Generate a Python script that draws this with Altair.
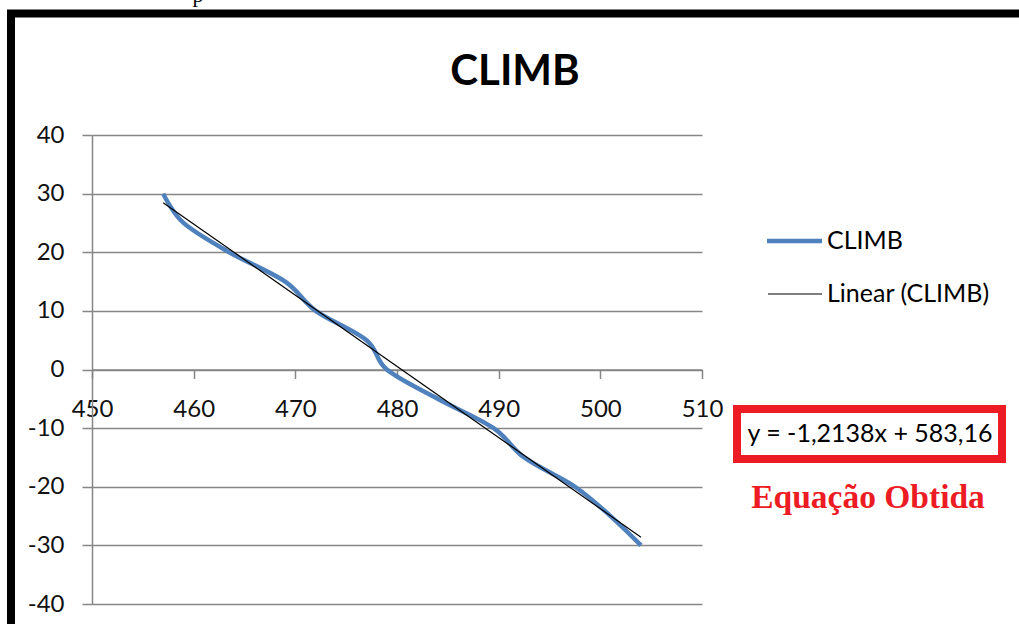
import altair as alt
import pandas as pd

# ---- data ----
climb_x = [457, 459, 463.5, 469, 472, 477, 479, 484, 489.5, 492.5, 497.5, 501, 504]
climb_y = [30, 25, 20, 15, 10, 5, 0, -5, -10, -15, -20, -25, -30]
trend_slope = -1.2138
trend_intercept = 583.16
x_ticks = [450, 460, 470, 480, 490, 500, 510]
y_ticks = [-40, -30, -20, -10, 0, 10, 20, 30, 40]
series_names = ["CLIMB", "Linear (CLIMB)"]
series_colors = ["#4F81BD", "#000000"]
title_text = "CLIMB"
equation_text = "y = -1,2138x + 583,16"
note_text = "Equação Obtida"

climb = pd.DataFrame({"x": climb_x, "y": climb_y})
tx = [min(climb_x), max(climb_x)]
trend = pd.DataFrame({"x": tx, "y": [trend_slope * v + trend_intercept for v in tx]})

FONT = "Lato"
GRID = "#868686"

xscale = alt.Scale(domain=[450, 510], nice=False, zero=False)
yscale = alt.Scale(domain=[-40, 40], nice=False, zero=False)

xaxis = alt.Axis(values=x_ticks, offset=-234.5, tickSize=9, tickColor=GRID, tickWidth=1.5,
                 domainColor=GRID, domainWidth=1.5, labelFont=FONT, labelFontSize=24,
                 labelColor="#111111", labelPadding=19, labelFlush=False, labelOverlap=False,
                 grid=False, title=None, labelExpr="'' + datum.value")
yaxis = alt.Axis(values=y_ticks, tickSize=10, tickColor=GRID, tickWidth=1.5,
                 domainColor=GRID, domainWidth=1.5, gridColor=GRID, gridWidth=1.5, grid=True,
                 labelFont=FONT, labelFontSize=24, labelColor="#111111", labelPadding=18,
                 labelOverlap=False, title=None, labelExpr="'' + datum.value")

base_line = alt.Chart(climb).mark_line(
    interpolate="cardinal", color=series_colors[0], strokeWidth=4.5
).encode(
    x=alt.X("x:Q", scale=xscale, axis=xaxis),
    y=alt.Y("y:Q", scale=yscale, axis=yaxis),
)

trend_line = alt.Chart(trend).mark_line(color=series_colors[1], strokeWidth=1.2).encode(
    x=alt.X("x:Q", scale=xscale),
    y=alt.Y("y:Q", scale=yscale),
)

one = pd.DataFrame({"a": [0]})

def txt(text, x, y, size, color="#000000", font=FONT, weight="normal", align="center", baseline="middle"):
    return alt.Chart(one).mark_text(
        text=text, font=font, fontSize=size, fontWeight=weight, color=color,
        align=align, baseline=baseline
    ).encode(x=alt.value(x), y=alt.value(y))

def rule(x, x2, y, y2, color, w):
    return alt.Chart(one).mark_rule(color=color, strokeWidth=w).encode(
        x=alt.value(x), x2=alt.value(x2), y=alt.value(y), y2=alt.value(y2))

# frame of the screenshot
frame_left = rule(-81, -81, -125, 500, "#000000", 8)
frame_top = rule(-85, 940, -121.5, -121.5, "#000000", 8)
stray = txt("p", 106, -133, 22, font="Liberation Serif", baseline="alphabetic")

title = txt(title_text, 423, -63, 42, weight="bold")

# legend
leg1 = rule(675, 730, 106, 106, series_colors[0], 4.5)
leg1t = txt(series_names[0], 735, 106, 25, align="left")
leg2 = rule(676, 730, 159, 159, series_colors[1], 1.2)
leg2t = txt(series_names[1], 735, 159, 25, align="left")

box = alt.Chart(one).mark_rect(fill="white", stroke="#ED1C24", strokeWidth=8).encode(
    x=alt.value(645), x2=alt.value(910), y=alt.value(274), y2=alt.value(324))
eq = txt(equation_text, 778, 299, 25)
note = txt(note_text, 776, 363, 33.5, color="#ED1C24", font="Liberation Serif", weight="bold")

chart = alt.layer(
    base_line, trend_line, frame_left, frame_top, stray, title,
    leg1, leg1t, leg2, leg2t, box, eq, note
).properties(
    width=610, height=469,
    autosize=alt.AutoSizeParams(type="none"),
    padding={"left": 92, "top": 135, "right": 317, "bottom": 20},
    background="white",
).configure_view(strokeWidth=0)

chart.save("out.html", embed_options={"renderer": "svg", "actions": False})
